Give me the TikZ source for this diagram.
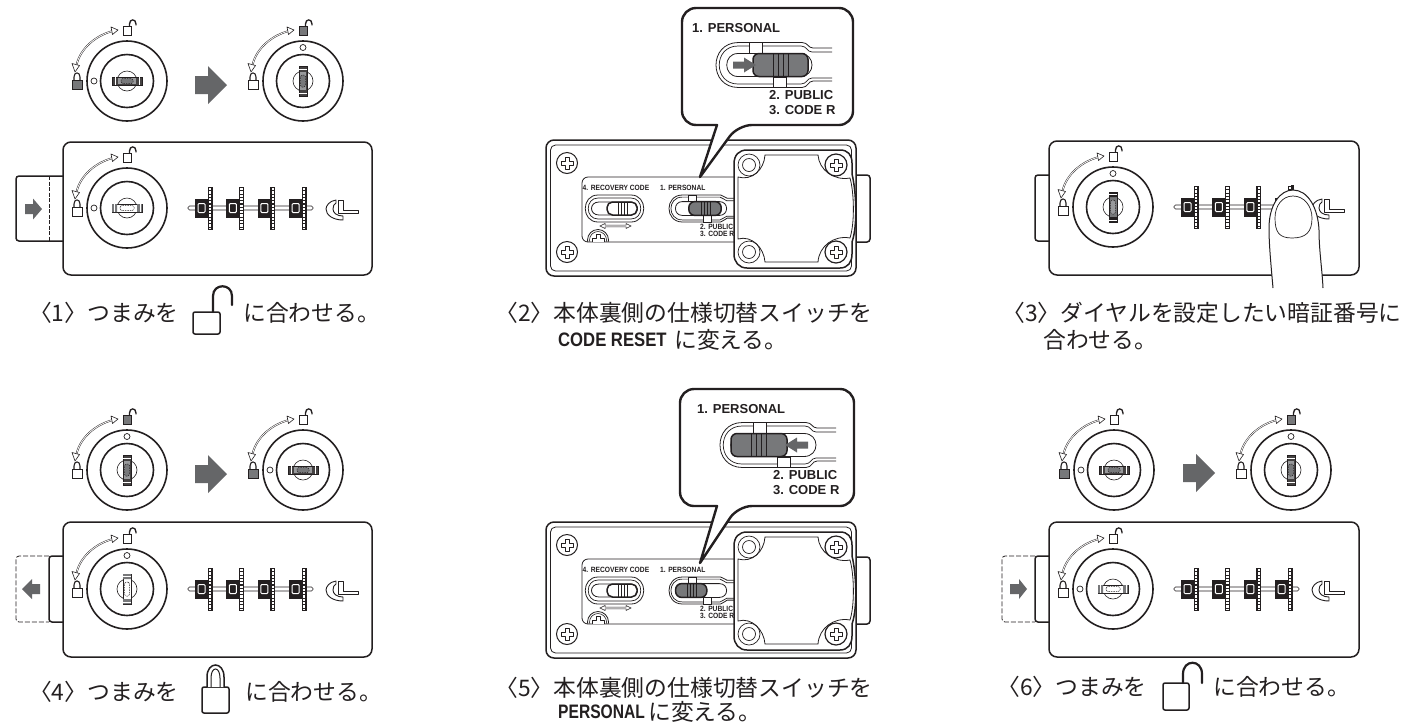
\documentclass[tikz,border=0pt]{standalone}
\usepackage{fontspec}
\usepackage{graphicx}
\setmainfont{Liberation Sans}
\newfontfamily\jpf{Noto Sans CJK JP}
\definecolor{ink}{HTML}{231F20}
\definecolor{gr}{HTML}{77787A}
\definecolor{grl}{HTML}{98999B}
\tikzset{
  lk/.style={draw=ink,line width=0.9pt},
  ring/.style={draw=ink,line width=1.6pt},
  thin1/.style={draw=ink,line width=0.6pt},
  body/.style={draw=ink,line width=1.5pt},
  captext/.style={font=\jpf\fontsize{22.8}{26}\selectfont,text=ink,anchor=west,inner sep=0pt},
  captextb/.style={font=\bfseries\fontsize{19.5}{22}\selectfont,text=ink,anchor=west,inner sep=0pt},
  bigt/.style={font=\bfseries\fontsize{13}{15}\selectfont,text=ink,anchor=west,inner sep=0pt},
  smallt/.style={font=\bfseries\fontsize{7.6}{9}\selectfont,text=ink,anchor=west,inner sep=0pt},
}
% large solid arrow: start x, y, shaft length, head length, half shaft, half head
\newcommand{\myArrow}[6]{\fill[gr!85!black] (#1,{#2-#5}) -- ({#1+#3},{#2-#5}) -- ({#1+#3},{#2-#6}) -- ({#1+#3+#4},#2) -- ({#1+#3},{#2+#6}) -- ({#1+#3},{#2+#5}) -- (#1,{#2+#5}) -- cycle;}
% keys, horizontal
\newcommand{\keydark}{%
  \draw[thin1,fill=white] (0,0) circle (10pt);
  \draw[thin1,fill=ink!85] (-15,-4) rectangle (15,4);
  \fill[grl] (-9,-2.8) rectangle (9,2.8);
  \draw[white,line width=.4pt] (-12,-4) -- (-12,4) (12,-4) -- (12,4);
  \draw[ink,line width=.5pt,dash pattern=on 1.5pt off 1pt,fill=gr,rounded corners=1.5pt] (-6,-2.5) rectangle (6,2.5);
}
\newcommand{\keylight}{%
  \draw[thin1,fill=white] (0,0) circle (10pt);
  \draw[thin1,fill=white] (-15,-4) rectangle (15,4);
  \fill[gr] (-15,-4) rectangle (-10,4) (10,-4) rectangle (15,4);
  \draw[white,line width=.5pt] (-13,-4) -- (-13,4) (13,-4) -- (13,4);
  \draw[ink,line width=.5pt,dash pattern=on 1.5pt off 1pt,rounded corners=1.5pt] (-7,-2.5) rectangle (7,2.5);
}
\newcommand{\keymid}{%
  \draw[thin1,fill=white] (0,0) circle (10pt);
  \draw[thin1,fill=gr] (-15,-4) rectangle (15,4);
  \fill[ink] (-15,-4) rectangle (-10,4) (10,-4) rectangle (15,4);
  \draw[white,line width=.5pt] (-13,-4) -- (-13,4) (13,-4) -- (13,4);
  \draw[ink,line width=.5pt,dash pattern=on 1.5pt off 1pt,fill=grl,rounded corners=1.5pt] (-7,-2.5) rectangle (7,2.5);
}
% marks round a knob: closed-lock fill, open-lock fill
\newcommand{\knobMarks}[2]{%
  \draw[line width=.45pt,draw=ink,double=white,double distance=.8pt]
    (-50.5,-16) .. controls (-46.6,-33) and (-30.5,-46) .. (-14,-50);
  \draw[thin1,fill=white,line join=round] (-52,-9) -- (-55,-17.5) -- (-47.5,-15.5) -- cycle;
  \draw[thin1,fill=white,line join=round] (-9,-51) -- (-16,-54) -- (-14.5,-46.5) -- cycle;
  \draw[lk,fill=#1] (-55,-1) rectangle (-45,8);
  \draw[lk,line width=1.1pt] (-53,-1) -- (-53,-4) .. controls (-53,-9.5) and (-47,-9.5) .. (-47,-4) -- (-47,-1);
  \draw[lk,fill=#2] (-4,-55) rectangle (4,-46);
  \draw[ink,line width=1.3pt,line cap=round] (2.5,-55) -- (2.5,-57) .. controls (2.5,-62.5) and (9,-62.5) .. (9,-57) -- (9,-56);
}
% #1 x, #2 y, #3 key macro, #4 closed fill, #5 open fill
\newcommand{\knobH}[5]{\begin{scope}[shift={(#1,#2)}]
  \knobMarks{#4}{#5}
  \draw[ring] (0,0) circle (40pt);
  \draw[ring] (0,0) circle (26.5pt);
  \draw[thin1,line width=.7pt] (-33,0) circle (3pt);
  #3
\end{scope}}
\newcommand{\knobV}[5]{\begin{scope}[shift={(#1,#2)}]
  \knobMarks{#4}{#5}
  \draw[ring] (0,0) circle (40pt);
  \draw[ring] (0,0) circle (26.5pt);
  \draw[thin1,line width=.7pt] (0,-33.5) circle (3pt);
  \begin{scope}[rotate=-90]#3\end{scope}
\end{scope}}
% one dial wheel at offset #1 from the knob centre
\newcommand{\myWheel}[1]{\begin{scope}[shift={(#1,0)}]
  \fill[ink] (0,-9.5) rectangle (13,9.5);
  \draw[draw=white,line width=1pt,rounded corners=1pt] (3,-4.5) rectangle (10,4.5);
  \fill[ink] (12.5,-21) rectangle (17.5,22);
  \draw[white,line width=2.2pt,dash pattern=on 2.2pt off 1.1pt] (15,-20) -- (15,21);
\end{scope}}
\newcommand{\myLogo}{%
  \draw[thin1,line width=.9pt,fill=white,line join=round] (211,-8) -- (216,-8) -- (216,2) -- (231,2) -- (231,5) -- (211,5) -- cycle;
  \draw[thin1,line width=.9pt,fill=white,line join=round] (209,-8) .. controls (202,-7) and (199,-2) .. (199,1) .. controls (199,7) and (206,12) .. (216,12) -- (216,8) .. controls (210,8) and (206,5) .. (206,1) .. controls (206,-2) and (207,-4) .. (209,-5) -- cycle;
}
% dial row, #1 knob x, #2 y
\newcommand{\myDials}[2]{\begin{scope}[shift={(#1,#2)}]
  \draw[thin1,fill=white,rounded corners=1.5pt] (61,-2) rectangle (186,2);
  \myWheel{68}\myWheel{99.4}\myWheel{130.8}\myWheel{162.2}
  \myLogo
\end{scope}}
% cross screw
\newcommand{\myCross}[2]{\draw[thin1,line width=.8pt,line join=round,fill=white] ({#1-2},{#2-6}) -- ({#1+2},{#2-6}) -- ({#1+2},{#2-2}) -- ({#1+6},{#2-2}) -- ({#1+6},{#2+2}) -- ({#1+2},{#2+2}) -- ({#1+2},{#2+6}) -- ({#1-2},{#2+6}) -- ({#1-2},{#2+2}) -- ({#1-6},{#2+2}) -- ({#1-6},{#2-2}) -- ({#1-2},{#2-2}) -- cycle;}
% switch slider: #1 x, #2 y, #3 scale, #4 knob start (local), #5 knob end
\newcommand{\mySlider}[5]{\begin{scope}[shift={(#1,#2)},scale=#3]
  \draw[thin1,line width=.8pt,fill=white] (116,-17) -- (97,-17) .. controls (92,-17) and (92,-22.5) .. (86,-22.5) -- (22.5,-22.5) .. controls (-7.5,-22.5) and (-7.5,22.5) .. (22.5,22.5) -- (86,22.5) .. controls (92,22.5) and (92,16) .. (97,16) -- (116,16);
  \draw[thin1,line width=.7pt] (116,-13) -- (96,-13) .. controls (91,-13) and (91,-19) .. (85,-19) -- (22,-19) .. controls (-3,-19) and (-3,19) .. (22,19) -- (85,19) .. controls (91,19) and (91,13) .. (96,13) -- (116,13);
  \draw[thin1,line width=.8pt] (22,-11.5) -- (84,-11.5) .. controls (100,-11.5) and (100,11.5) .. (84,11.5) -- (22,11.5) .. controls (7,11.5) and (7,-11.5) .. (22,-11.5) -- cycle;
  \draw[thin1,line width=.7pt,fill=white] (33,-22.5) rectangle (46,-12);
  \draw[thin1,line width=.7pt,fill=white] (57,12) rectangle (70,22.5);
  \draw[draw=ink,line width=1.5pt,fill=gr,rounded corners=6pt] (#4,-11.5) rectangle (#5,11.5);
  \draw[ink,line width=.5pt] ({#4+20},-11.5) -- ({#4+20},11.5) ({#4+25},-11.5) -- ({#4+25},11.5) ({#4+30},-11.5) -- ({#4+30},11.5) ({#4+35},-11.5) -- ({#4+35},11.5);
\end{scope}}
% back panel, #1 dy
\newcommand{\backPanel}[1]{\begin{scope}[shift={(0,#1)}]
  \draw[body,fill=white,rounded corners=3pt] (850,175) -- (870,175) -- (870,242) -- (850,242);
  \draw[body,fill=white,rounded corners=8pt] (546,140) rectangle (856,276);
  \draw[thin1,line width=.8pt,rounded corners=5pt] (550.5,145) rectangle (851.5,271);
  \foreach \sy in {163,252}{
    \draw[thin1,line width=1pt] (567,\sy) circle (10.5pt);
    \myCross{567}{\sy}
  }
  \draw[thin1,line width=.8pt,rounded corners=6pt] (740,177) -- (582,177) -- (582,242) -- (740,242);
  \node[smallt] (rec#1) at (582.5,188) {\scalebox{.88}[1]{4. RECOVERY CODE}};
  \node[smallt] (per#1) at (660,188) {\scalebox{.88}[1]{1. PERSONAL}};
  \node[smallt] (pub#1) at (700,226.5) {\scalebox{.88}[1]{2. PUBLIC}};
  \node[smallt] (cod#1) at (700,234) {\scalebox{.88}[1]{3. CODE R}};
  % recovery switch
  \draw[thin1,line width=.8pt] (598,195) -- (631,195) .. controls (648,195) and (648,222) .. (631,222) -- (598,222) .. controls (581,222) and (581,195) .. (598,195) -- cycle;
  \draw[thin1,line width=.7pt] (598,198) -- (631,198) .. controls (644,198) and (644,219) .. (631,219) -- (598,219) .. controls (585,219) and (585,198) .. (598,198) -- cycle;
  \draw[thin1,line width=.8pt] (599,202) -- (630,202) .. controls (640,202) and (640,215) .. (630,215) -- (599,215) .. controls (589,215) and (589,202) .. (599,202) -- cycle;
  \draw[draw=ink,line width=1.5pt,fill=white,rounded corners=5.5pt] (607,202) rectangle (637,215);
  \draw[ink,line width=.5pt] (618,202) -- (618,215) (621,202) -- (621,215) (624,202) -- (624,215) (627,202) -- (627,215);
  % adjust arrow
  \draw[thin1,line width=.5pt,fill=white] (600,226) -- (605,223.5) -- (605,225.2) -- (626,225.2) -- (626,223.5) -- (631,226) -- (626,228.5) -- (626,226.8) -- (605,226.8) -- (605,228.5) -- cycle;
  \begin{scope}
    \clip (580,225) rectangle (620,241.5);
    \draw[thin1,line width=.8pt] (598,240) circle (10.5pt);
    \draw[thin1,line width=.6pt] (598,240) circle (8.5pt);
    \myCross{598}{240}
  \end{scope}
\end{scope}}
% plate over the switch, #1 dy
\newcommand{\myPlate}[1]{\begin{scope}[shift={(0,#1)}]
  \draw[draw=ink,line width=1.5pt,fill=white] (747,150) -- (840,150) .. controls (848,150) and (852,155) .. (852,163) -- (852,174) .. controls (856,190) and (858,225) .. (852,242) -- (852,254) .. controls (852,262) and (848,268) .. (840,268) -- (747,268) .. controls (739,268) and (734,262) .. (734,254) -- (734,164) .. controls (734,155) and (739,150) .. (747,150) -- cycle;
  \draw[thin1,line width=.8pt] (738,177) .. controls (752,181) and (764,170) .. (765,155) -- (818,155) .. controls (819,170) and (834,181) .. (850,178) .. controls (854,192) and (855,222) .. (850,238) .. controls (834,235) and (819,246) .. (818,262) -- (765,262) .. controls (764,248) and (752,235) .. (738,239) -- cycle;
  \foreach \sy in {165,252}{
    \draw[thin1,line width=.7pt] (749,\sy) circle (6.5pt);
    \draw[thin1,line width=.7pt] (749,\sy) circle (11pt);
    \draw[draw=ink,line width=1.2pt,fill=white] (836,\sy) circle (11pt);
    \myCross{836}{\sy}
  }
\end{scope}}
\begin{document}
\begin{tikzpicture}[x=1pt,y=-1pt]
\useasboundingbox (0,0) rectangle (1414,724);
\fill[white] (0,0) rectangle (1414,724);

%% ---- step 1
\knobH{127}{81}{\keydark}{gr}{white}
\myArrow{195}{85}{13}{19}{9}{19}
\knobV{303}{81}{\keydark}{white}{gr}
\draw[body,fill=white,rounded corners=3pt] (64,176) -- (16,176) -- (16,241) -- (64,241);
\draw[thin1,dash pattern=on 4pt off 1.5pt] (49,176) -- (49,241);
\myArrow{25}{209}{8}{9}{5}{10.5}
\draw[body,fill=white,rounded corners=8pt] (63,142) rectangle (372,275);
\knobH{127}{208}{\keylight}{white}{white}
\myDials{127}{208}

%% ---- step 3
\draw[body,fill=white,rounded corners=3pt] (1050,175) -- (1035,175) -- (1035,241) -- (1050,241);
\draw[body,fill=white,rounded corners=8pt] (1049,141) rectangle (1359,275);
\knobV{1113}{207}{\keymid}{white}{white}
\myDials{1113}{207}
\fill[ink] (1290.5,185) rectangle (1293.5,191);
\fill[white] (1273,288) .. controls (1271,265) and (1269,245) .. (1269,228) .. controls (1269,205) and (1280,190) .. (1293,190) .. controls (1308,190) and (1318,208) .. (1319,230) .. controls (1319,250) and (1322,268) .. (1323,288) -- cycle;
\draw[draw=ink,line width=1pt] (1273,288) .. controls (1271,265) and (1269,245) .. (1269,228) .. controls (1269,205) and (1280,190) .. (1293,190) .. controls (1308,190) and (1318,208) .. (1319,230) .. controls (1319,250) and (1322,268) .. (1323,288);
\draw[thin1,line width=.7pt] (1293,196) .. controls (1282,196) and (1275,206) .. (1275,218) .. controls (1275,232) and (1279,238) .. (1292,238) .. controls (1306,238) and (1312,232) .. (1312,218) .. controls (1312,206) and (1304,196) .. (1293,196) -- cycle;

%% ---- step 4
\knobV{127}{470}{\keydark}{white}{gr}
\myArrow{195}{474}{13}{19}{9}{19}
\knobH{303}{470}{\keydark}{gr}{white}
\draw[thin1,line width=.8pt,dash pattern=on 5pt off 2pt,rounded corners=3pt] (49,556) -- (16,556) -- (16,622) -- (49,622);
\draw[body,fill=white,rounded corners=3pt] (64,556) -- (49,556) -- (49,622) -- (64,622);
\myArrow{40}{589}{-8}{-10}{5}{10}
\draw[body,fill=white,rounded corners=8pt] (63,522) rectangle (372,657);
\knobV{127}{589}{\keylight}{white}{white}
\myDials{127}{589}

%% ---- step 6
\knobH{1114}{470}{\keydark}{gr}{white}
\myArrow{1183}{473}{13}{19}{9}{19}
\knobV{1291}{470}{\keydark}{white}{gr}
\draw[thin1,line width=.8pt,dash pattern=on 5pt off 2pt,rounded corners=3pt] (1035,556) -- (1002,556) -- (1002,622) -- (1035,622);
\draw[body,fill=white,rounded corners=3pt] (1050,556) -- (1035,556) -- (1035,622) -- (1050,622);
\myArrow{1010}{589}{9}{8}{5}{10}
\draw[body,fill=white,rounded corners=8pt] (1049,522) rectangle (1359,657);
\knobH{1113}{589}{\keylight}{white}{white}
\myDials{1113}{589}

%% ---- step 2
\backPanel{0}
\mySlider{669}{208.5}{0.6}{33}{87}
\myPlate{0}
\draw[draw=ink,line width=2.4pt,fill=white,rounded corners=14pt,line join=round] (682,8) -- (853,8) -- (853,125) -- (738,125) [sharp corners] -- (700,177) -- (717,125) [rounded corners=14pt] -- (682,125) -- cycle;
\node[bigt] (t2a) at (692,28) {1. PERSONAL};
\mySlider{716}{65}{1}{37}{92}
\myArrow{733}{65}{11}{12}{3.5}{7.5}
\node[bigt] (t2b) at (769,95) {2. PUBLIC};
\node[bigt] (t2c) at (769,110) {3. CODE R};

%% ---- step 5
\backPanel{382}
\mySlider{669}{590.5}{0.6}{11}{63}
\myPlate{382}
\draw[draw=ink,line width=2.4pt,fill=white,rounded corners=14pt,line join=round] (680,389) -- (854,389) -- (854,506) -- (738,506) [sharp corners] -- (700,563) -- (717,506) [rounded corners=14pt] -- (680,506) -- cycle;
\node[bigt] (t5a) at (697,409) {1. PERSONAL};
\mySlider{720}{445}{1}{11}{67}
\myArrow{808}{445}{-11}{-12}{3.5}{7.5}
\node[bigt] (t5b) at (773,475) {2. PUBLIC};
\node[bigt] (t5c) at (773,490) {3. CODE R};

%% ---- captions
\node[captext] (c1a) at (29,313) {〈1〉つまみを};
\draw[draw=ink,line width=1.5pt,fill=white,rounded corners=2pt] (193,312) rectangle (220,334);
\draw[draw=ink,line width=2.2pt,line cap=round] (213,312) -- (213,296) .. controls (213,283) and (232,283) .. (232,296) -- (232,305);
\node[captext] (c1b) at (243,313) {に合わせる。};

\node[captext] (c2a) at (495,313) {〈2〉本体裏側の仕様切替スイッチを};
\node[captextb] (c2b) at (558,340) {\scalebox{.855}[1]{CODE RESET}};
\node[captext] (c2c) at (674,340) {に変える。};

\node[captext] (c3a) at (1002,313) {〈3〉ダイヤルを設定したい暗証番号に};
\node[captext] (c3b) at (1043,340) {合わせる。};

\node[captext] (c4a) at (29,692) {〈4〉つまみを};
\draw[draw=ink,line width=1.5pt,fill=white,rounded corners=2pt] (202,687) rectangle (229,713);
\draw[draw=ink,line width=1.5pt,fill=white] (207,687) -- (207,677) .. controls (207,661) and (224,661) .. (224,677) -- (224,687);
\draw[draw=ink,line width=1pt] (211,687) -- (211,678) .. controls (211,666) and (220,666) .. (220,678) -- (220,687);
\node[captext] (c4b) at (245,692) {に合わせる。};

\node[captext] (c5a) at (495,688) {〈5〉本体裏側の仕様切替スイッチを};
\node[captextb] (c5b) at (558,712) {\scalebox{.8}[1]{PERSONAL}};
\node[captext] (c5c) at (648,712) {に変える。};

\node[captext] (c6a) at (997,687) {〈6〉つまみを};
\draw[draw=ink,line width=1.5pt,fill=white,rounded corners=2pt] (1163,683) rectangle (1189,710);
\draw[draw=ink,line width=2.2pt,line cap=round] (1183,683) -- (1183,674) .. controls (1183,659) and (1202,659) .. (1202,674) -- (1202,683);
\node[captext] (c6b) at (1213,687) {に合わせる。};
\end{tikzpicture}
\end{document}
